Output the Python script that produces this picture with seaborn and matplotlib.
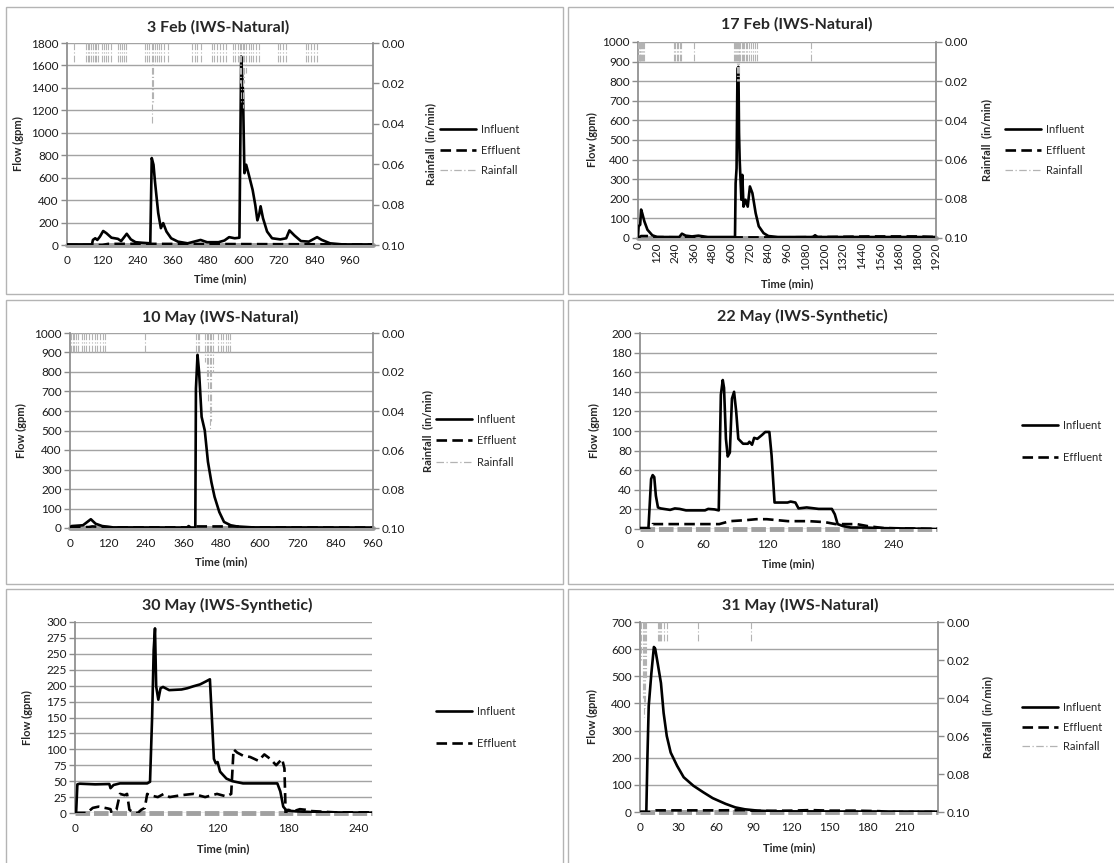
import numpy as np
import matplotlib
matplotlib.use("Agg")
import matplotlib.pyplot as plt
import seaborn as sns
from matplotlib.lines import Line2D
from matplotlib.patches import Rectangle
from matplotlib.ticker import FormatStrFormatter

# ---------------- 3 Feb (IWS-Natural) ----------------
feb3_t = [0, 85, 88, 96, 103, 112, 123, 134, 151, 173, 184, 203, 217, 233, 255, 283, 288, 294, 299, 310,
          319, 327, 338, 354, 377, 410, 454, 476, 515, 535, 551, 570, 586, 592, 598, 603, 609, 618, 631, 640,
          647, 653, 658, 666, 680, 697, 725, 745, 756, 773, 795, 822, 850, 866, 894, 938, 1040]
feb3_inf = [5, 5, 45, 60, 45, 75, 125, 105, 65, 55, 35, 100, 50, 25, 20, 15, 775, 715, 565, 285,
            150, 195, 120, 60, 30, 15, 45, 25, 25, 40, 70, 60, 65, 1680, 1370, 640, 715, 625, 490, 355,
            220, 270, 345, 240, 120, 60, 50, 60, 130, 85, 35, 30, 70, 45, 15, 5, 5]
feb3_eff_t = [0, 120, 140, 300, 600, 900, 1040]
feb3_eff = [0, 0, 10, 10, 8, 6, 5]
feb3_rain_t = [24, 63, 70, 75, 80, 88, 95, 100, 107,
               118, 125, 132, 140, 151,
               173, 180, 188, 195, 200,
               266, 272, 280, 288, 292, 298, 305, 312, 320, 330, 343,
               426, 434, 441, 454,
               492, 500, 510, 520, 530, 542,
               565, 572, 580, 587, 592, 597, 602, 610, 617, 624, 632, 642, 653,
               718, 725, 733, 745,
               811, 820, 830, 840, 850]
feb3_rain = [0.01, 0.01, 0.01, 0.01, 0.01, 0.01, 0.01, 0.01, 0.01,
             0.01, 0.01, 0.01, 0.01, 0.01,
             0.01, 0.01, 0.01, 0.01, 0.01,
             0.01, 0.01, 0.01, 0.04, 0.03, 0.01, 0.01, 0.01, 0.01, 0.01, 0.01,
             0.01, 0.01, 0.01, 0.01,
             0.01, 0.01, 0.01, 0.01, 0.01, 0.01,
             0.01, 0.01, 0.01, 0.02, 0.03, 0.032, 0.02, 0.015, 0.01, 0.01, 0.01, 0.01, 0.01,
             0.01, 0.01, 0.01, 0.01,
             0.01, 0.01, 0.01, 0.01, 0.01]

# ---------------- 17 Feb (IWS-Natural) ----------------
feb17_t = [0, 4, 14, 20, 27, 41, 61, 92, 123, 266, 283, 307, 348, 389, 450, 625, 629, 635, 641, 647,
           651, 655, 666, 672, 680, 692, 707, 721, 737, 758, 778, 809, 840, 901, 1126, 1141, 1157, 1920]
feb17_inf = [8, 60, 68, 145, 127, 85, 42, 14, 5, 5, 22, 12, 8, 12, 5, 5, 280, 355, 865, 873,
             535, 400, 195, 322, 160, 195, 160, 263, 229, 127, 60, 25, 10, 5, 5, 14, 5, 5]
feb17_eff_t = [0, 20, 60, 100, 300, 600, 900, 1200, 1500, 1800, 1920]
feb17_eff = [0, 10, 10, 5, 3, 3, 3, 5, 8, 8, 5]
feb17_rain_t = [2, 6, 10, 15, 20, 25, 30, 38,
                232, 240, 250, 258, 270, 280,
                360,
                618, 625, 632, 638, 642, 648, 652, 660, 668, 675, 685, 695, 705, 715, 728, 740, 755, 765,
                1112]
feb17_rain = [0.01, 0.01, 0.01, 0.01, 0.01, 0.01, 0.01, 0.01,
              0.01, 0.01, 0.01, 0.01, 0.01, 0.01,
              0.01,
              0.01, 0.01, 0.01, 0.02, 0.02, 0.02, 0.01, 0.01, 0.01, 0.01, 0.01, 0.01, 0.01, 0.01, 0.01, 0.01, 0.01, 0.01,
              0.01]

# ---------------- 10 May (IWS-Natural) ----------------
may10_t = [0, 5, 41, 66, 81, 102, 137, 370, 376, 382, 397, 399, 404, 409, 417, 427, 437, 448, 458, 473,
           488, 509, 529, 580, 960]
may10_inf = [2, 10, 14, 45, 22, 10, 3, 2, 10, 2, 2, 715, 888, 800, 570, 500, 340, 235, 160, 82,
             31, 14, 8, 3, 2]
may10_eff_t = [0, 60, 70, 140, 380, 395, 410, 530, 550, 960]
may10_eff = [3, 5, 8, 3, 3, 8, 8, 8, 3, 2]
may10_rain_t = [2, 8, 14, 20, 25, 38, 45, 52, 60, 70, 78, 85, 95, 103, 112,
                239,
                398, 404, 410, 428, 433, 437, 442, 447, 452, 470, 477, 485, 493, 500, 508]
may10_rain = [0.01, 0.01, 0.01, 0.01, 0.01, 0.01, 0.01, 0.01, 0.01, 0.01, 0.01, 0.01, 0.01, 0.01, 0.01,
              0.01,
              0.01, 0.01, 0.01, 0.015, 0.025, 0.035, 0.05, 0.045, 0.02, 0.01, 0.01, 0.01, 0.01, 0.01, 0.01]

# ---------------- 22 May (IWS-Synthetic) ----------------
may22_t = [0, 8, 10.5, 12, 13.5, 15, 17, 19.5, 28.5, 33, 37.5, 43.5, 61.5, 64.5, 70.5, 74.5, 76.5, 78.3, 79.5, 81.3,
           83, 85, 87, 89, 91, 93, 97.5, 102, 103.5, 106, 108, 111, 115.5, 118.5, 122.4, 124.5, 127.3, 132, 139.6, 142.5,
           147, 150, 157.7, 169, 181.5, 184.3, 187, 192, 199.5, 214.7, 223, 281]
may22_inf = [1, 1, 51, 55, 53, 34, 22, 21, 19.5, 21, 20.5, 19, 19, 20.5, 20, 19, 137, 152, 144, 92,
             74, 78, 133, 140, 120, 92, 87, 87, 89, 86, 93, 92, 96, 99, 99, 75, 27, 27, 27, 28,
             27, 21, 22, 20.5, 20.5, 15, 5, 3, 1.5, 1.5, 1, 0]
may22_eff_t = [0, 10, 12, 40, 75, 85, 100, 110, 120, 140, 160, 175, 185, 195, 205, 215, 230, 281]
may22_eff = [0, 0, 5, 5, 5, 8, 9, 10, 10, 8, 8, 7, 5, 5, 5, 3, 1, 0]

# ---------------- 30 May (IWS-Synthetic) ----------------
may30_t = [0, 1, 2, 4, 17, 29, 30, 32.6, 38, 61, 63.4, 65.2, 66.5, 67.6, 68.6, 70.4, 72.3, 74.4, 79.6, 90,
           95, 100, 105.7, 111, 114, 115.6, 117.4, 119, 120.5, 122.6, 125, 128, 133, 142, 171, 173.5, 176, 178.7, 186.5, 199.6,
           232, 251]
may30_inf = [0, 2.6, 45, 46, 45, 45.5, 39, 44, 46.5, 46.5, 49, 152, 256, 290, 199, 178, 196, 198, 193, 194,
             196, 199, 202, 207, 210, 152, 85, 78, 80, 65, 60, 54, 50, 46.5, 46.5, 34, 10, 4, 2.6, 1.5,
             0.5, 0.5]
may30_eff_t = [0, 10, 15, 20, 28, 30, 31, 35, 38, 42, 44, 46, 50, 53, 56, 59, 61, 63, 70, 75,
               80, 90, 100, 110, 120, 128, 132, 134, 137, 142, 148, 155, 160, 165, 170, 175, 177, 178, 180, 185,
               190, 195, 200, 210, 220, 251]
may30_eff = [0, 0, 8, 10, 7, 6, 0, 5, 30, 28, 30, 5, 0, 0, 5, 8, 30, 28, 25, 30,
             25, 28, 30, 25, 30, 26, 30, 100, 95, 90, 88, 82, 92, 85, 75, 85, 70, 0, 5, 3,
             6, 5, 3, 2, 1, 1]

# ---------------- 31 May (IWS-Natural) ----------------
may31_t = [0, 5, 5.9, 6.9, 9, 11, 12, 14, 16.6, 18.7, 21.2, 24.3, 29.4, 34.6, 42.2, 50, 57.6, 67.8, 75.5, 83,
           93.4, 106, 236]
may31_inf = [0, 0, 207, 390, 511, 608, 602, 548, 475, 365, 280, 219, 170, 128, 97, 73, 51, 30, 17, 10,
             5, 2.4, 1]
may31_eff_t = [0, 8, 10, 30, 60, 85, 90, 120, 135, 150, 170, 190, 195, 236]
may31_eff = [0, 0, 6, 6, 6, 7, 4, 5, 7, 5, 5, 3, 0, 0]
may31_rain_t = [1, 2, 3, 4, 5, 14, 15, 16, 17, 19, 21, 46, 88]
may31_rain = [0.02, 0.04, 0.05, 0.045, 0.03, 0.01, 0.01, 0.01, 0.01, 0.01, 0.01, 0.01, 0.01]

sns.set_theme(style="white")
plt.rcParams["font.family"] = ["Lato", "DejaVu Sans"]

W, H = 1114, 863
fig = plt.figure(figsize=(W / 100, H / 100), dpi=100)

GRID = "#a3a3a3"
AXIS = "#8c8c8c"
RAIN = "#b3b3b3"
EFF_LS = (0, (4, 2))
RAIN_LS = (0, (6, 2, 1, 2))
LW = 1.9


def fx(x):
    return x / W


def fy(y):
    return 1 - y / H


def panel(box, area, title, title_xy, xlab_y, ylab_x, inf, eff, ylim, xlim, xticks,
          rain=None, rain_x=None, legend_x=0, legend_y=(), band_ls="-", rot=0, xpad=7):
    # Rahmen um jedes Diagramm (wie Excel-Diagrammbereich)
    bl, bt, br, bb = box
    fig.add_artist(Rectangle((fx(bl), fy(bb)), (br - bl) / W, (bb - bt) / H, transform=fig.transFigure,
                             fill=False, ec="#b4b4b4", lw=1))

    l, t, r, b = area
    ax = fig.add_axes([fx(l), fy(b), (r - l) / W, (b - t) / H])
    sns.lineplot(x=inf[0], y=inf[1], ax=ax, color="black", lw=LW, zorder=4)
    sns.lineplot(x=eff[0], y=eff[1], ax=ax, color="black", lw=LW, linestyle=EFF_LS, zorder=3)
    ax.axhline(0, color="#a0a0a0", lw=3.5, ls=band_ls, zorder=2, clip_on=False)

    ax.set_xlim(0, xlim)
    ax.set_ylim(0, ylim[0])
    ax.set_yticks(np.arange(0, ylim[0] + ylim[1] / 2, ylim[1]))
    ax.set_xticks(np.arange(0, xticks[0] + xticks[1] / 2, xticks[1]))
    ax.set_axisbelow(True)
    ax.grid(axis="y", color=GRID, lw=1)
    ax.grid(axis="x", visible=False)
    for s in ["top", "right", "bottom"]:
        ax.spines[s].set_visible(False)
    ax.spines["left"].set_color(AXIS)
    ax.tick_params(axis="y", length=4, width=1, color=AXIS, direction="out", pad=2,
                   labelsize=8.5, labelcolor="#1a1a1a", left=True)
    ax.tick_params(axis="x", length=0, pad=xpad, labelsize=8.5, labelcolor="#1a1a1a", labelrotation=rot)
    ax.set_xlabel("")
    ax.set_ylabel("")

    handles = [Line2D([], [], color="black", lw=LW), Line2D([], [], color="black", lw=LW, ls=EFF_LS)]
    labels = ["Influent", "Effluent"]

    if rain is not None:
        ax2 = ax.twinx()
        ax2.vlines(rain[0], 0, rain[1], colors=RAIN, linestyles=RAIN_LS, lw=0.8)
        ax2.set_ylim(0.1, 0)
        ax2.set_yticks(np.arange(0, 0.101, 0.02))
        ax2.yaxis.set_major_formatter(FormatStrFormatter("%.2f"))
        ax2.grid(False)
        for s in ["top", "left", "bottom"]:
            ax2.spines[s].set_visible(False)
        ax2.spines["right"].set_color(AXIS)
        ax2.tick_params(axis="y", length=4, width=1, color=AXIS, direction="out", pad=2,
                        labelsize=8.5, labelcolor="#1a1a1a", right=True)
        handles.append(Line2D([], [], color=RAIN, lw=0.9, ls=RAIN_LS))
        labels.append("Rainfall")
        fig.text(fx(rain_x), fy((t + b) / 2), "Rainfall  (in/min)", rotation=90, ha="center", va="center",
                 fontsize=8, fontweight="bold")

    gap = legend_y[1] - legend_y[0]
    ax.legend(handles, labels, loc="center left", bbox_to_anchor=(fx(legend_x), fy(np.mean(legend_y))),
              bbox_transform=fig.transFigure, frameon=False, fontsize=8, handlelength=3.2,
              handletextpad=0.45, borderpad=0, borderaxespad=0, labelspacing=(gap - 12.5) / 11.1)

    fig.text(fx(title_xy[0]), fy(title_xy[1]), title, ha="center", va="center", fontsize=11.5, fontweight="bold")
    fig.text(fx((l + r) / 2), fy(xlab_y), "Time (min)", ha="center", va="center", fontsize=8, fontweight="bold")
    fig.text(fx(ylab_x), fy((t + b) / 2), "Flow (gpm)", rotation=90, ha="center", va="center",
             fontsize=8, fontweight="bold")
    return ax


panel((6, 7, 563, 294), (67, 43, 373, 245), "3 Feb (IWS-Natural)", (218, 27), 279, 18,
      (feb3_t, feb3_inf), (feb3_eff_t, feb3_eff), (1800, 200), 1040, (960, 120),
      rain=(feb3_rain_t, feb3_rain), rain_x=431, legend_x=440, legend_y=(128, 150, 172))

panel((568, 7, 1120, 294), (638, 42, 936, 238), "17 Feb (IWS-Natural)", (797, 24), 284, 592,
      (feb17_t, feb17_inf), (feb17_eff_t, feb17_eff), (1000, 100), 1920, (1920, 120),
      rain=(feb17_rain_t, feb17_rain), rain_x=987, legend_x=1005, legend_y=(128, 150, 172),
      rot=90, xpad=3)

panel((6, 300, 563, 584), (70, 333, 373, 528), "10 May (IWS-Natural)", (220, 317), 562, 21,
      (may10_t, may10_inf), (may10_eff_t, may10_eff), (1000, 100), 960, (960, 120),
      rain=(may10_rain_t, may10_rain), rain_x=428, legend_x=436, legend_y=(418, 441, 463))

panel((568, 300, 1120, 584), (640, 333, 937, 529), "22 May (IWS-Synthetic)", (802, 316), 564, 594,
      (may22_t, may22_inf), (may22_eff_t, may22_eff), (200, 20), 281, (240, 60),
      legend_x=1022, legend_y=(425, 458), band_ls=(0, (3, 0.8)))

panel((6, 589, 563, 875), (75, 622, 372, 813), "30 May (IWS-Synthetic)", (227, 605), 849, 27,
      (may30_t, may30_inf), (may30_eff_t, may30_eff), (300, 25), 251, (240, 60),
      legend_x=436, legend_y=(711, 744), band_ls=(0, (3, 0.8)))

panel((568, 589, 1120, 875), (640, 622, 938, 812), "31 May (IWS-Natural)", (800, 605), 848, 592,
      (may31_t, may31_inf), (may31_eff_t, may31_eff), (700, 100), 236, (210, 30),
      rain=(may31_rain_t, may31_rain), rain_x=988, legend_x=1022, legend_y=(706, 727, 749),
      band_ls=(0, (3, 0.8)))

fig.savefig("out.png", dpi=100, facecolor="white")
